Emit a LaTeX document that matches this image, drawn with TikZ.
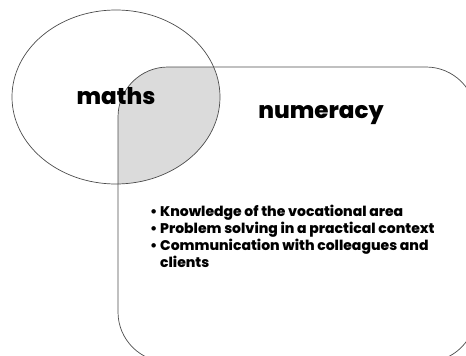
\documentclass[tikz,border=0pt]{standalone}
\usepackage{fontspec}
\setmainfont{Poppins}[BoldFont={Poppins ExtraBold}]
\tikzset{
  outline/.style={draw=black!70, line width=0.7pt},
  overlap/.style={fill=black!14},
  title/.style={font=\fontsize{23}{26}\selectfont\bfseries, inner sep=0pt},
  points/.style={font=\fontsize{14}{17}\selectfont\bfseries, align=left, anchor=north west, inner sep=0pt}
}
\newcommand{\numbox}{[rounded corners=50] (118,67) rectangle (476,362)}
\begin{document}
\begin{tikzpicture}[x=1pt, y=-1pt]
\useasboundingbox (0,0) rectangle (466,356);
% shared area
\begin{scope}
  \clip (116,97) ellipse [x radius=104, y radius=87];
  \fill[overlap] \numbox;
\end{scope}
\draw[outline] \numbox;
\draw[outline] (116,97) ellipse [x radius=104, y radius=87];
\node[title] (maths) at (116,96) {maths};
\node[title] (numeracy) at (321,115) {numeracy};
\node[points] (skills) at (150,205) {%
  \textbullet\ Knowledge of the vocational area\\
  \textbullet\ Problem solving in a practical context\\
  \textbullet\ Communication with colleagues and\\
  \phantom{\textbullet\ }clients};
\end{tikzpicture}
\end{document}
